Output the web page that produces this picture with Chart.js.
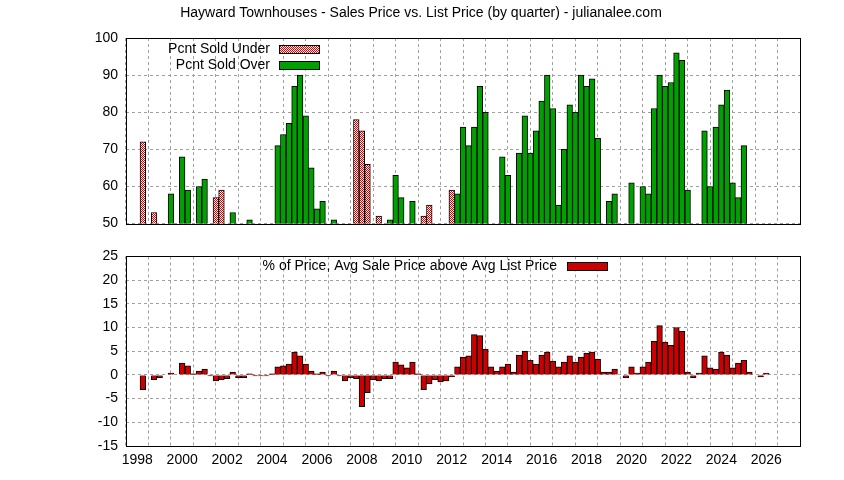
<!DOCTYPE html>
<html><head><meta charset="utf-8">
<script src="https://cdn.jsdelivr.net/npm/chart.js@4"></script>
<style>
body{margin:0;background:#fff;width:844px;height:480px;overflow:hidden;position:relative;font-family:"Liberation Sans",Arial,sans-serif}
</style></head><body>
<div id="w1" style="position:absolute;left:0;top:0;width:844px;height:240px"><canvas id="c1"></canvas></div>
<div id="w2" style="position:absolute;left:0;top:240px;width:844px;height:240px"><canvas id="c2"></canvas></div>
<script>
const firstYear = 1998;
const N = null;
// one value per quarter, 1998 Q1 .. 2025 Q4
const pcntUnder = [
72,N,53,N, N,N,N,N, N,N,N,N, N,57,59,N, N,N,N,N, N,N,N,N, N,N,N,N, N,N,N,N,
N,N,N,N, N,N,78,75, 66,N,52,N, N,N,N,N, N,N,52,55, N,N,N,59, N,N,N,N, N,N,N,N,
N,N,N,N, N,N,N,N, N,N,N,N, N,N,N,N, N,N,N,N, N,N,N,N, N,N,N,N, N,N,N,N,
N,N,N,N, N,N,N,N, N,N,N,N, N,N,N,N];
const pcntOver = [
N,N,N,N, N,58,N,68, 59,N,60,62, N,N,N,N, 53,N,N,51, N,N,N,N, 71,74,77,87, 90,79,65,54,
56,N,51,N, N,N,N,N, N,N,N,N, 51,63,57,N, 56,N,N,N, N,N,N,N, 58,76,71,76, 87,80,N,N,
68,63,N,69, 79,69,75,83, 90,81,55,70, 82,80,90,87, 89,73,N,56, 58,N,N,61, N,60,58,81, 90,87,88,96,
94,59,N,N, 75,60,76,82, 86,61,57,71, N,N,N,N];
const pctAbove = [
-3.1,0,-1.0,-0.6, 0,0.4,0,2.5, 1.9,0.2,0.8,1.25, -0.2,-1.25,-1.0,-0.8, 0.6,-0.6,-0.6,0.2, -0.2,-0.2,-0.2,0.2, 1.7,1.9,2.3,4.8, 4.0,2.3,0.8,0.2,
0.6,-0.2,0.8,-0.2, -1.25,-0.6,-0.8,-6.7, -3.75,-1.0,-1.25,-0.8, -0.8,2.7,2.1,1.5, 2.7,0.2,-3.1,-1.9, -1.0,-1.5,-1.25,-0.4, 1.7,3.75,4.0,8.5, 8.3,5.4,1.7,0.8,
1.7,2.3,0.6,4.2, 5.0,3.1,2.3,4.2, 4.8,2.9,1.7,2.7, 4.0,2.7,3.75,4.6, 4.8,3.3,0.6,0.6, 1.25,0,-0.6,1.7, 0.4,1.7,2.7,7.1, 10.4,6.9,6.25,10.0,
9.2,0.6,-0.6,0.4, 4.0,1.5,1.25,4.8, 4.2,1.5,2.5,3.1, 0.6,0,-0.4,0.4];
const xTickLabels = ['1998','2000','2002','2004','2006','2008','2010','2012','2014','2016','2018','2020','2022','2024','2026'];
const title = 'Hayward Townhouses - Sales Price vs. List Price (by quarter) - julianalee.com';

const qx = i => firstYear + (i + 1) / 4;
const pts = arr => arr.map((v, i) => ({x: qx(i), y: v}));

const pc = document.createElement('canvas'); pc.width = 2; pc.height = 2;
const pg = pc.getContext('2d'); pg.fillStyle = '#fff'; pg.fillRect(0,0,2,2);
pg.fillStyle = '#e00000'; pg.fillRect(0,0,1,1); pg.fillRect(1,1,1,1);
const hatch = pg.createPattern(pc, 'repeat');

const FONT = '"Liberation Sans", Arial, sans-serif';
Chart.defaults.font.family = FONT;
Chart.defaults.font.size = 14;
Chart.defaults.color = '#000';

const gridOpt = {color: '#a0a0a0', drawTicks: false, lineWidth: 1};
const borderOpt = {display: false, dash: [3, 3]};

const frame = {
  id: 'frame',
  afterDatasetsDraw(c, a, o) {
    const ca = c.chartArea, x = c.ctx;
    x.save(); x.strokeStyle = '#000'; x.lineWidth = 1;
    x.strokeRect(Math.round(ca.left)+0.5, Math.round(ca.top)+0.5, Math.round(ca.right-ca.left), Math.round(ca.bottom-ca.top));
    x.font = '14px ' + FONT; x.textAlign = 'right'; x.textBaseline = 'middle';
    (o.items || []).forEach(it => {
      x.fillStyle = '#000'; x.fillText(it.text, it.tx, it.ty);
      x.fillStyle = it.fill; x.fillRect(it.sx, it.ty - 4, 40, 8);
      x.strokeRect(it.sx + 0.5, it.ty - 4 + 0.5, 40, 8);
    });
    if (o.title) { x.textAlign = 'center'; x.fillStyle = '#000'; x.fillText(o.title, 421, 13); }
    x.restore();
  }
};

const xScale = (showLabels) => ({
  type: 'linear', min: 1998, max: 2027,
  ticks: {stepSize: 1, display: showLabels, padding: 6, autoSkip: false, maxRotation: 0,
    callback: v => (v % 2 === 0 && xTickLabels.includes(String(v))) ? String(v) : ''},
  grid: gridOpt, border: borderOpt,
  afterFit: s => { s.height = showLabels ? 34 : 0; }
});

new Chart(document.getElementById('c1'), {
  type: 'bar',
  data: {datasets: [
    {label: 'Pcnt Sold Under', data: pts(pcntUnder), backgroundColor: hatch, borderColor: '#000', borderWidth: 1, grouped: false, barPercentage: 1, categoryPercentage: 1, borderSkipped: 'bottom'},
    {label: 'Pcnt Sold Over', data: pts(pcntOver), backgroundColor: '#00a000', borderColor: '#000', borderWidth: 1, grouped: false, barPercentage: 1, categoryPercentage: 1, borderSkipped: 'bottom'}
  ]},
  options: {
    responsive: true, maintainAspectRatio: false, animation: false,
    layout: {padding: {left: 0, right: 44, top: 38, bottom: 3}},
    plugins: {legend: {display: false}, tooltip: {enabled: false},
      frame: {title: title, items: [
        {text: 'Pcnt Sold Under', tx: 270, ty: 49, sx: 279, fill: hatch},
        {text: 'Pcnt Sold Over', tx: 270, ty: 65, sx: 279, fill: '#00a000'}]}},
    scales: {
      x: xScale(false),
      y: {min: 50, max: 100, ticks: {stepSize: 10, padding: 8}, grid: gridOpt, border: borderOpt,
        afterFit: s => { s.width = 126; }}
    }
  },
  plugins: [frame]
});

new Chart(document.getElementById('c2'), {
  type: 'bar',
  data: {datasets: [
    {label: '% of Price, Avg Sale Price above Avg List Price', data: pts(pctAbove), backgroundColor: '#cc0000', borderColor: '#000', borderWidth: 1, grouped: false, barPercentage: 1, categoryPercentage: 1, borderSkipped: 'start'}
  ]},
  options: {
    responsive: true, maintainAspectRatio: false, animation: false,
    layout: {padding: {left: 0, right: 44, top: 14, bottom: 0}},
    plugins: {legend: {display: false}, tooltip: {enabled: false},
      frame: {items: [{text: '% of Price, Avg Sale Price above Avg List Price', tx: 557, ty: 26, sx: 567, fill: '#cc0000'}]}},
    scales: {
      x: xScale(true),
      y: {min: -15, max: 25, ticks: {stepSize: 5, padding: 8}, grid: gridOpt, border: borderOpt,
        afterFit: s => { s.width = 126; }}
    }
  },
  plugins: [frame]
});
</script></body></html>
